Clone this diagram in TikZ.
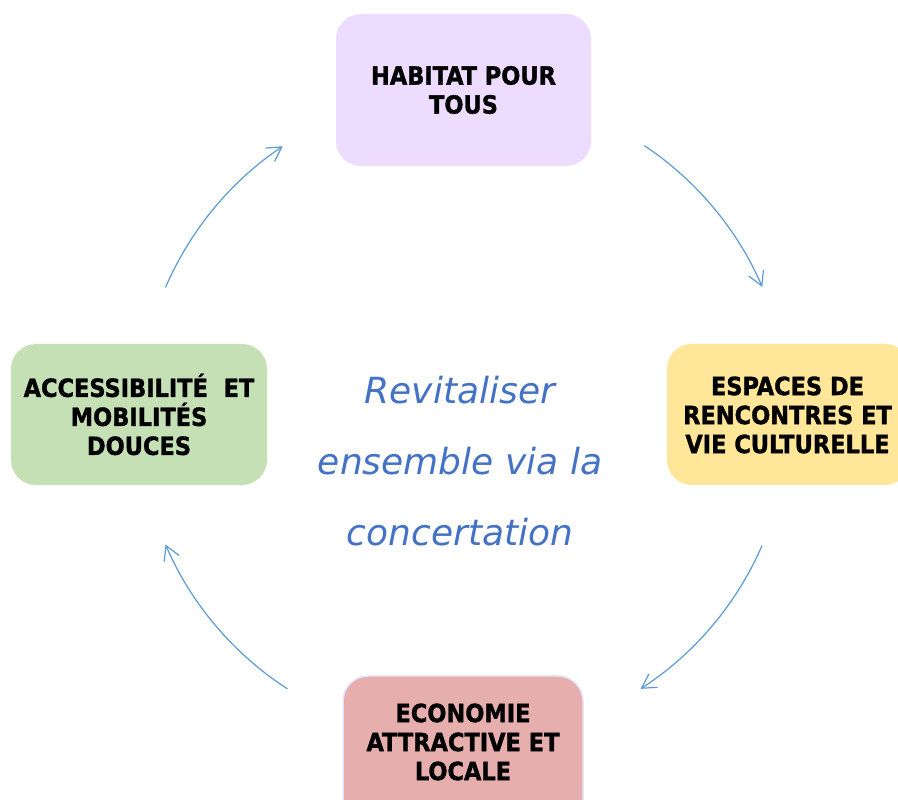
\documentclass[tikz,border=0pt]{standalone}
\usepackage{fontspec}
\newfontfamily\boxfont{DejaVu Sans Condensed}[BoldFeatures={FakeBold=1.3}]
\newfontfamily\centerfont{DejaVu Sans}
\usetikzlibrary{arrows.meta,calc}
\definecolor{lav}{HTML}{EDDCFE}
\definecolor{ylw}{HTML}{FFE699}
\definecolor{grn}{HTML}{C5E0B4}
\definecolor{rse}{HTML}{E6AFAE}
\definecolor{arrc}{HTML}{5B9BD5}
\definecolor{txtb}{HTML}{4472C4}
\tikzset{
  card/.style={rounded corners=25pt, inner sep=0pt, outer sep=0pt},
  cardtext/.style={align=center, font=\boxfont\bfseries\fontsize{25}{29}\selectfont, text=black},
  cyc/.style={draw=arrc, line width=1.2pt, -{Straight Barb[length=14pt,width=16pt,line width=1.2pt]}},
}
\begin{document}
\begin{tikzpicture}[x=1pt,y=1pt]
\useasboundingbox (0,0) rectangle (898,800);
\clip (0,0) rectangle (898,800);
\fill[white] (0,0) rectangle (898,800);
% boxes
\fill[lav,card] (336,634) rectangle (591,786);
\fill[ylw,card] (667,315) rectangle (910,456);
\fill[grn,card] (11,315) rectangle (267,456);
\draw[rse,card,fill=rse,draw=blue!10!white,line width=1.5pt] (343,-25) rectangle (583,124);
% texts
\node[cardtext] (top) at (463.5,710) {HABITAT POUR\\TOUS};
\node[cardtext] (right) at (787.5,385) {ESPACES DE\\RENCONTRES ET\\VIE CULTURELLE};
\node[cardtext] (left) at (139,385.5) {ACCESSIBILITÉ\ \ ET\\MOBILITÉS\\DOUCES};
\node[cardtext] (bottom) at (463,58) {ECONOMIE\\ATTRACTIVE ET\\LOCALE};
\node[align=center, text=txtb, font=\centerfont\itshape\fontsize{36}{71}\selectfont] (center) at (460,339) {Revitaliser\\ensemble via la\\concertation};
% arcs
\coordinate (c) at (464,384);
\coordinate (a1) at ($(c)+(56.3:325)$);
\coordinate (a2) at ($(c)+(-23.5:325)$);
\coordinate (a3) at ($(c)+(237.1:325)$);
\coordinate (a4) at ($(c)+(156.7:325)$);
\draw[cyc] (a1) arc[start angle=56.3, end angle=23.4, radius=325];
\draw[cyc] (a2) arc[start angle=-23.5, end angle=-57.1, radius=325];
\draw[cyc] (a3) arc[start angle=237.1, end angle=203.3, radius=325];
\draw[cyc] (a4) arc[start angle=156.7, end angle=123.9, radius=325];
\end{tikzpicture}
\end{document}
